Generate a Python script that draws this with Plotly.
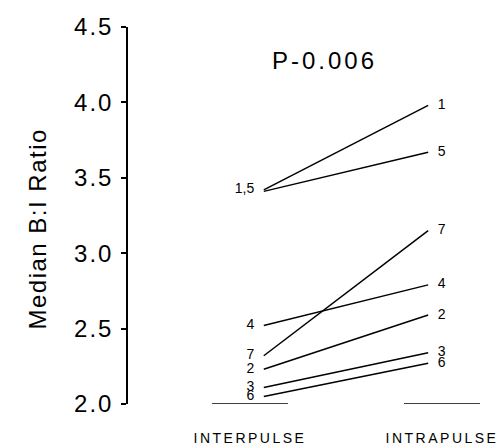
import plotly.graph_objects as go

subjects = ["1", "5", "7", "4", "2", "3", "6"]
interpulse = [3.42, 3.41, 2.32, 2.52, 2.23, 2.11, 2.05]
intrapulse = [3.98, 3.67, 3.15, 2.79, 2.59, 2.34, 2.27]
left_labels = ["1,5", "", "7", "4", "2", "3", "6"]
medians = [2.0, 2.0]
categories = ["INTERPULSE", "INTRAPULSE"]
cat_pos = [0, 1]
y_ticks = [2.0, 2.5, 3.0, 3.5, 4.0, 4.5]
p_text = "P-0.006"
y_title = "Median B:I Ratio"

x_start, x_end = 0.072, 0.928
half_w = 0.198

FONT = "Liberation Sans, Arial, sans-serif"


def spaced(t, px):
    return f'<span style="letter-spacing:{px}px">{t}</span>'


fig = go.Figure()

for s, a, b in zip(subjects, interpulse, intrapulse):
    fig.add_trace(go.Scatter(x=[x_start, x_end], y=[a, b], mode="lines",
                             line=dict(color="black", width=1.5), showlegend=False,
                             hoverinfo="skip"))

# median bars
for c, m in zip(cat_pos, medians):
    fig.add_trace(go.Scatter(x=[c - half_w, c + half_w], y=[m, m], mode="lines",
                             line=dict(color="black", width=1.5), showlegend=False,
                             hoverinfo="skip"))

# left labels
fig.add_trace(go.Scatter(x=[x_start - 0.05] * len(subjects), y=interpulse, mode="text",
                         text=left_labels, textposition="middle left",
                         textfont=dict(family=FONT, size=14, color="black"),
                         showlegend=False, hoverinfo="skip"))
# right labels
fig.add_trace(go.Scatter(x=[x_end + 0.05] * len(subjects), y=intrapulse, mode="text",
                         text=subjects, textposition="middle right",
                         textfont=dict(family=FONT, size=14, color="black"),
                         showlegend=False, hoverinfo="skip"))

fig.add_annotation(x=0.39, y=4.28, text=spaced(p_text, 3), showarrow=False,
                   font=dict(family=FONT, size=24, color="black"))

fig.add_annotation(xref="paper", yref="paper", x=-0.285, y=0.464,
                   text=spaced(y_title, 1.5), textangle=-90, showarrow=False,
                   font=dict(family=FONT, size=24, color="black"))

fig.update_layout(
    width=501, height=448,
    margin=dict(l=128, r=1, t=27, b=44),
    paper_bgcolor="white", plot_bgcolor="white",
    font=dict(family=FONT, color="black"),
    xaxis=dict(range=[-0.635, 1.302], tickvals=cat_pos,
               ticktext=[spaced(c, 2.5) for c in categories],
               showgrid=False, zeroline=False, showline=False, ticks="",
               tickfont=dict(family=FONT, size=14), ticklabelstandoff=24,
               automargin=False),
    yaxis=dict(range=[2.0, 4.5], tickvals=y_ticks,
               ticktext=[spaced(f"{v:.1f}", 2) for v in y_ticks],
               showgrid=False, zeroline=False, showline=True, linecolor="black",
               linewidth=1.5, ticks="outside", ticklen=5, tickwidth=1.5,
               tickcolor="black", tickfont=dict(family=FONT, size=24),
               ticklabelstandoff=3, automargin=False),
)

fig.write_html("out.html", config={"displayModeBar": False},
               post_script="document.body.style.margin='0';")
